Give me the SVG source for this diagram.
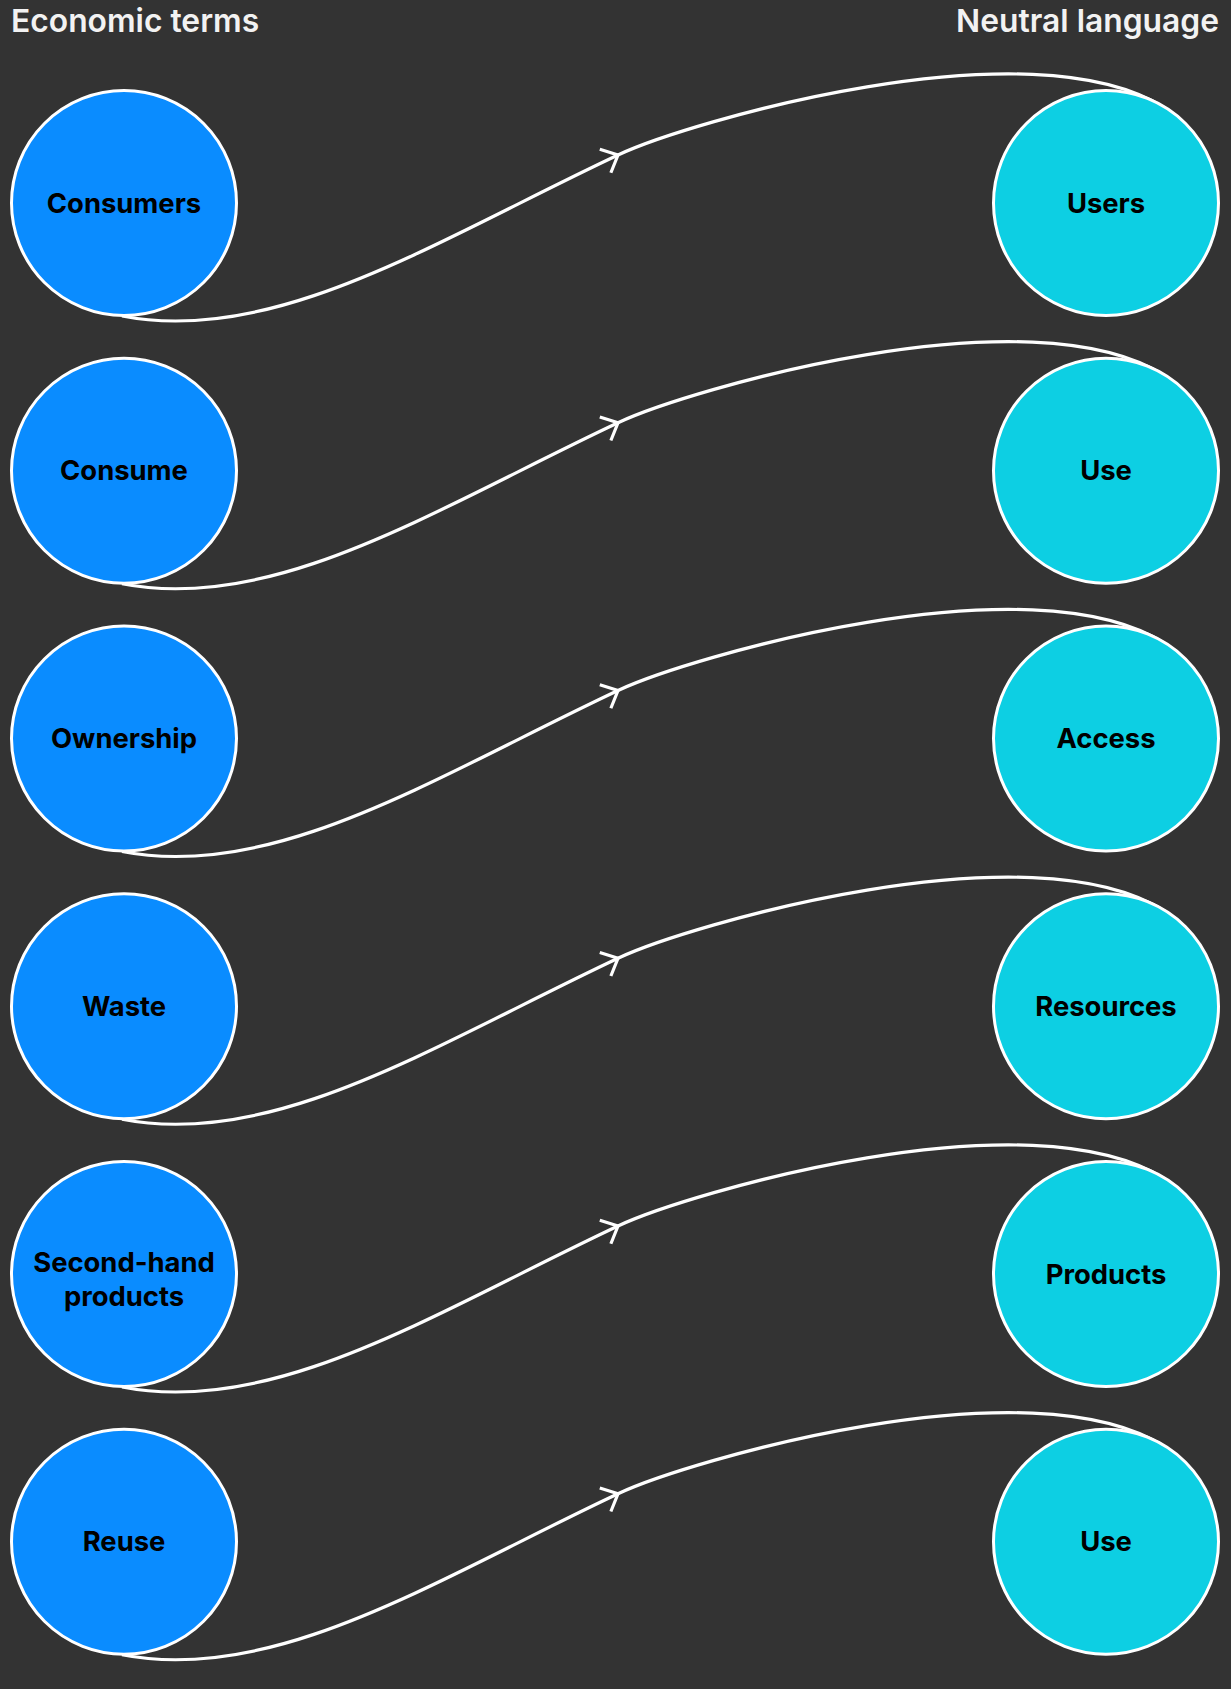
<svg xmlns="http://www.w3.org/2000/svg" width="1231" height="1689" viewBox="0 0 1231 1689">
  <defs>
    <style>
      .title { font-family: Inter, "Liberation Sans", sans-serif; font-size: 31.8px; font-weight: 600; fill: #f2f2f2; }
      .lbl { font-family: Inter, "Liberation Sans", sans-serif; font-size: 27.4px; font-weight: 700; fill: #000; text-anchor: middle; }
      .left { fill: #0a8cff; stroke: #ffffff; stroke-width: 3; }
      .right { fill: #0dcfe3; stroke: #ffffff; stroke-width: 3; }
      .edge { fill: none; stroke: #ffffff; stroke-width: 3.2; marker-mid: url(#arr); }
    </style>
    <marker id="arr" markerUnits="userSpaceOnUse" markerWidth="30" markerHeight="30" viewBox="-15 -15 30 30" refX="0" refY="0" orient="auto" overflow="visible">
      <path d="M-14,-13 L0,0 L-14,13" fill="none" stroke="#ffffff" stroke-width="3.2"/>
    </marker>
  </defs>
  <rect width="1231" height="1689" fill="#333333"/>
  <text class="title" x="11" y="32">Economic terms</text>
  <text class="title" x="1219" y="32" text-anchor="end">Neutral language</text>

  <g id="connectors">
    <path class="edge" d="M122,316 C275,346 438,239.6 618,155 C688,122 1030,22 1165,108"/>
    <path class="edge" transform="translate(0,267.75)" d="M122,316 C275,346 438,239.6 618,155 C688,122 1030,22 1165,108"/>
    <path class="edge" transform="translate(0,535.5)" d="M122,316 C275,346 438,239.6 618,155 C688,122 1030,22 1165,108"/>
    <path class="edge" transform="translate(0,803.25)" d="M122,316 C275,346 438,239.6 618,155 C688,122 1030,22 1165,108"/>
    <path class="edge" transform="translate(0,1071)" d="M122,316 C275,346 438,239.6 618,155 C688,122 1030,22 1165,108"/>
    <path class="edge" transform="translate(0,1338.75)" d="M122,316 C275,346 438,239.6 618,155 C688,122 1030,22 1165,108"/>
  </g>

  <g id="n-consumers"><circle class="left" cx="124" cy="203" r="112.5"/><text class="lbl" x="124" y="212.5">Consumers</text></g>
  <g id="n-consume"><circle class="left" cx="124" cy="470.75" r="112.5"/><text class="lbl" x="124" y="480.25">Consume</text></g>
  <g id="n-ownership"><circle class="left" cx="124" cy="738.5" r="112.5"/><text class="lbl" x="124" y="748">Ownership</text></g>
  <g id="n-waste"><circle class="left" cx="124" cy="1006.25" r="112.5"/><text class="lbl" x="124" y="1015.75">Waste</text></g>
  <g id="n-secondhand"><circle class="left" cx="124" cy="1274" r="112.5"/><text class="lbl" x="124" y="1272">Second-hand</text><text class="lbl" x="124" y="1306">products</text></g>
  <g id="n-reuse"><circle class="left" cx="124" cy="1541.75" r="112.5"/><text class="lbl" x="124" y="1551.25">Reuse</text></g>

  <g id="n-users"><circle class="right" cx="1106" cy="203" r="112.5"/><text class="lbl" x="1106" y="212.5">Users</text></g>
  <g id="n-use1"><circle class="right" cx="1106" cy="470.75" r="112.5"/><text class="lbl" x="1106" y="480.25">Use</text></g>
  <g id="n-access"><circle class="right" cx="1106" cy="738.5" r="112.5"/><text class="lbl" x="1106" y="748">Access</text></g>
  <g id="n-resources"><circle class="right" cx="1106" cy="1006.25" r="112.5"/><text class="lbl" x="1106" y="1015.75">Resources</text></g>
  <g id="n-products"><circle class="right" cx="1106" cy="1274" r="112.5"/><text class="lbl" x="1106" y="1283.5">Products</text></g>
  <g id="n-use2"><circle class="right" cx="1106" cy="1541.75" r="112.5"/><text class="lbl" x="1106" y="1551.25">Use</text></g>
</svg>
